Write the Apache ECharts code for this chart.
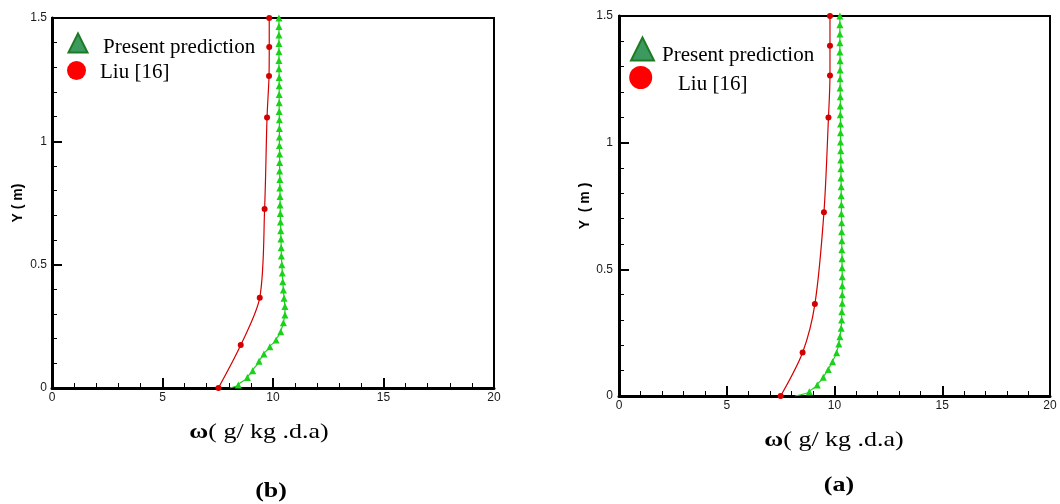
<!DOCTYPE html>
<html>
<head>
<meta charset="utf-8">
<script src="https://cdn.jsdelivr.net/npm/echarts@6/dist/echarts.min.js"></script>
<style>
  html, body { margin: 0; padding: 0; background: #fff; }
  #chart { width: 1060px; height: 504px; }
</style>
</head>
<body>
<div id="chart"></div>
<script>
// Humidity ratio profiles along the height, two cases: (b) left, (a) right.
const seriesNames = ['Present prediction', 'Liu [16]'];
const panelLabels = ['(b)', '(a)'];
const xTitle = ['ω', '( g/ kg .d.a)'];
const xTicks = [0, 5, 10, 15, 20];
const yTicks = [0, 0.5, 1, 1.5];

// Case (b): Liu [16]
const liuY_b = [0, 0.174, 0.366, 0.726, 1.097, 1.265, 1.382, 1.5];
const liuW_b = [7.53, 8.54, 9.40, 9.62, 9.73, 9.82, 9.83, 9.83];
// Case (b): present prediction
const predY_b = [0, 0.012, 0.043, 0.07, 0.108, 0.138, 0.167, 0.195, 0.228, 0.265, 0.296, 0.33, 0.364, 0.397, 0.431,
  0.466, 0.5, 0.535, 0.569, 0.604, 0.638, 0.673, 0.707, 0.742, 0.776, 0.811, 0.845, 0.88, 0.914, 0.949, 0.983,
  1.018, 1.052, 1.087, 1.121, 1.156, 1.19, 1.225, 1.259, 1.294, 1.328, 1.363, 1.397, 1.431, 1.466, 1.5];
const predW_b = [8.05, 8.43, 8.84, 9.08, 9.37, 9.59, 9.86, 10.14, 10.35, 10.47, 10.54, 10.54, 10.50, 10.47, 10.44,
  10.42, 10.40, 10.38, 10.37, 10.36, 10.35, 10.34, 10.33, 10.32, 10.32, 10.31, 10.31, 10.30, 10.30, 10.30, 10.29,
  10.29, 10.29, 10.29, 10.28, 10.28, 10.28, 10.28, 10.28, 10.27, 10.27, 10.27, 10.27, 10.27, 10.27, 10.27];

// Case (a): Liu [16]
const liuY_a = [0, 0.172, 0.363, 0.725, 1.099, 1.265, 1.383, 1.5];
const liuW_a = [7.50, 8.52, 9.09, 9.51, 9.72, 9.79, 9.79, 9.79];
// Case (a): present prediction
const predY_a = [0, 0.017, 0.043, 0.074, 0.105, 0.135, 0.171, 0.205, 0.234, 0.267, 0.3, 0.333, 0.366, 0.4,
  0.435, 0.471, 0.506, 0.542, 0.577, 0.613, 0.648, 0.684, 0.719, 0.755, 0.79, 0.826, 0.861, 0.897, 0.932, 0.968,
  1.003, 1.039, 1.074, 1.11, 1.145, 1.181, 1.216, 1.252, 1.287, 1.323, 1.358, 1.394, 1.429, 1.465, 1.5];
const predW_a = [8.16, 8.83, 9.20, 9.48, 9.71, 9.91, 10.10, 10.20, 10.25, 10.31, 10.33, 10.34, 10.36, 10.36,
  10.36, 10.36, 10.35, 10.35, 10.34, 10.34, 10.33, 10.33, 10.32, 10.32, 10.31, 10.31, 10.30, 10.30, 10.29, 10.29,
  10.28, 10.28, 10.28, 10.27, 10.27, 10.27, 10.26, 10.26, 10.26, 10.26, 10.25, 10.25, 10.25, 10.25, 10.25];

const SERIF = "'Liberation Serif', 'Times New Roman', serif";
const SANS = "'Liberation Sans', Arial, sans-serif";
const RED = '#d40000';
const GREEN = '#19d219';

function pairs(ws, ys, skipFirstMarker) {
  return ws.map((w, i) => {
    const item = { value: [w, ys[i]] };
    if (skipFirstMarker && i === 0) item.symbol = 'none';
    return item;
  });
}

const panels = [
  { grid: { left: 52, top: 18, width: 442, height: 370 }, yName: 'Y ( m)', yGap: 27, yLabelMargin: 5 },
  { grid: { left: 619, top: 16, width: 431, height: 380 }, yName: 'Y  ( m )', yGap: 26, yLabelMargin: 6 }
];

const grids = panels.map(p => Object.assign({
  show: true, borderColor: '#000', borderWidth: 2, backgroundColor: 'transparent'
}, p.grid));

const xAxes = panels.map((p, i) => ({
  type: 'value', gridIndex: i, min: xTicks[0], max: xTicks[xTicks.length - 1], interval: 5,
  axisLine: { onZero: false, lineStyle: { color: '#000', width: 3 } },
  axisTick: { inside: true, length: 10, lineStyle: { color: '#000', width: 2 } },
  minorTick: { show: true, splitNumber: 5, length: 5, lineStyle: { color: '#000', width: 1 } },
  axisLabel: { margin: 4, fontFamily: SANS, fontSize: 12, color: '#1a1a1a' },
  splitLine: { show: false }
}));

const yAxes = panels.map((p, i) => ({
  type: 'value', gridIndex: i, min: yTicks[0], max: yTicks[yTicks.length - 1], interval: 0.5,
  name: p.yName, nameLocation: 'middle', nameRotate: 90, nameGap: p.yGap,
  nameTextStyle: { fontFamily: SANS, fontSize: 14, fontWeight: 'bold', color: '#000' },
  axisLine: { onZero: false, lineStyle: { color: '#000', width: 3 } },
  axisTick: { inside: true, length: 10, lineStyle: { color: '#000', width: 2 } },
  minorTick: { show: true, splitNumber: 5, length: 5, lineStyle: { color: '#000', width: 1 } },
  axisLabel: { margin: p.yLabelMargin, fontFamily: SANS, fontSize: 12, color: '#1a1a1a' },
  splitLine: { show: false }
}));

function liuSeries(idx, ws, ys) {
  return {
    name: seriesNames[1], type: 'line', xAxisIndex: idx, yAxisIndex: idx,
    data: pairs(ws, ys, false), smooth: 0.3,
    symbol: 'circle', symbolSize: 6, showAllSymbol: true,
    lineStyle: { color: RED, width: 1.2 }, itemStyle: { color: RED }, z: 3, animation: false
  };
}
function predSeries(idx, ws, ys) {
  return {
    name: seriesNames[0], type: 'line', xAxisIndex: idx, yAxisIndex: idx,
    data: pairs(ws, ys, true), smooth: 0.3, smoothMonotone: 'y',
    symbol: 'triangle', symbolSize: [7, 7], showAllSymbol: true,
    lineStyle: { color: GREEN, width: 1.2 }, itemStyle: { color: GREEN }, z: 4, animation: false
  };
}

// Key entries drawn in each panel's upper-left corner
function keyGraphics(k) {
  return [
    { type: 'polygon', shape: { points: [[k.tx, k.ty - k.th / 2], [k.tx - k.tw / 2, k.ty + k.th / 2], [k.tx + k.tw / 2, k.ty + k.th / 2]] },
      style: { fill: '#3c9a5f', stroke: '#1f7a25', lineWidth: 2 } },
    { type: 'text', x: k.t1x, y: k.t1y, style: { text: seriesNames[0], font: '21px ' + SERIF, fill: '#000', verticalAlign: 'middle' } },
    { type: 'circle', shape: { cx: k.cx, cy: k.cy, r: k.cr }, style: { fill: '#ff0000' } },
    { type: 'text', x: k.t2x, y: k.t2y, style: { text: seriesNames[1], font: '21px ' + SERIF, fill: '#000', verticalAlign: 'middle' } }
  ];
}

// Axis title and panel caption under each plot (slightly widened serif lettering)
function captionGraphics(c) {
  return [
    { type: 'text', x: c.nx, y: c.ny, scaleX: 1.18, originX: 0, originY: 0,
      style: {
        text: '{w|' + xTitle[0] + '}{t|' + xTitle[1] + '}', align: 'center', verticalAlign: 'middle',
        rich: {
          w: { font: 'bold 22px ' + SERIF, fill: '#000' },
          t: { font: '22px ' + SERIF, fill: '#000' }
        }
      } },
    { type: 'text', x: c.px, y: c.py, scaleX: 1.18, originX: 0, originY: 0,
      style: { text: c.label, font: 'bold 22px ' + SERIF, fill: '#000', align: 'center', verticalAlign: 'middle' } }
  ];
}

const graphics = [].concat(
  keyGraphics({ tx: 78, ty: 43, tw: 19, th: 19, t1x: 103, t1y: 47, cx: 76.5, cy: 70.5, cr: 9.5, t2x: 100, t2y: 72 }),
  keyGraphics({ tx: 642.5, ty: 49, tw: 23, th: 23, t1x: 662, t1y: 55, cx: 640.7, cy: 77.5, cr: 11.5, t2x: 678, t2y: 84 }),
  captionGraphics({ nx: 259, ny: 432, px: 271, py: 491, label: panelLabels[0] }),
  captionGraphics({ nx: 834, ny: 440, px: 839, py: 485, label: panelLabels[1] })
);

const chart = echarts.init(document.getElementById('chart'), null, { renderer: 'canvas' });
chart.setOption({
  backgroundColor: '#fff',
  animation: false,
  grid: grids,
  xAxis: xAxes,
  yAxis: yAxes,
  series: [
    liuSeries(0, liuW_b, liuY_b),
    predSeries(0, predW_b, predY_b),
    liuSeries(1, liuW_a, liuY_a),
    predSeries(1, predW_a, predY_a)
  ],
  graphic: graphics
});
</script>
</body>
</html>
